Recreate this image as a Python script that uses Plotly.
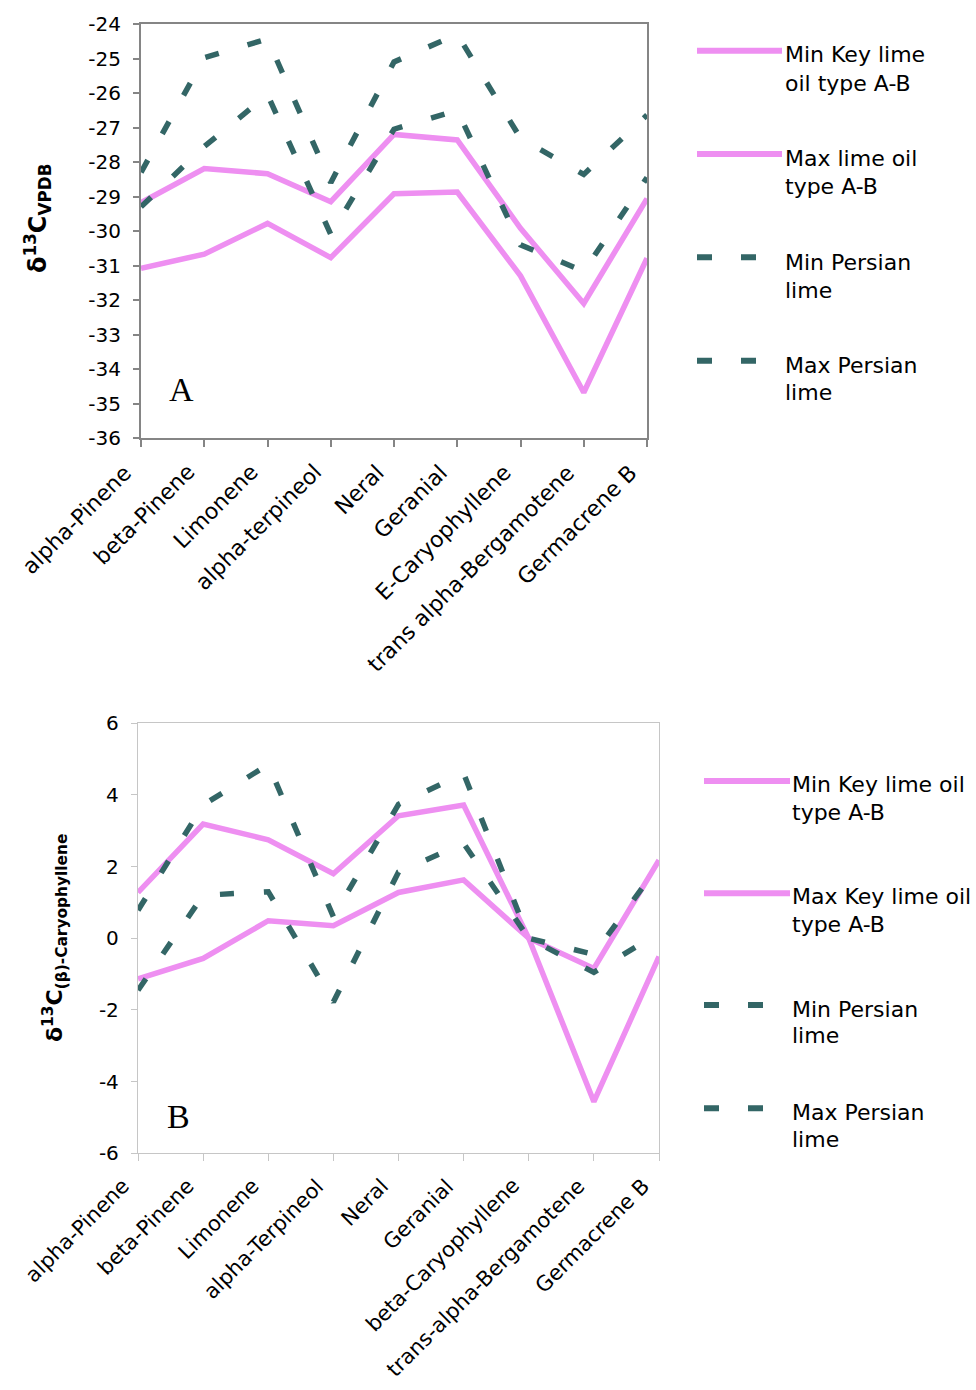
import plotly.graph_objects as go

# ---------------- data ----------------
categories_A = ["alpha-Pinene", "beta-Pinene", "Limonene", "alpha-terpineol", "Neral",
                "Geranial", "E-Caryophyllene", "trans alpha-Bergamotene", "Germacrene B"]
min_key_A = [-31.08, -30.67, -29.78, -30.77, -28.92, -28.87, -31.30, -34.68, -30.79]
max_key_A = [-29.18, -28.19, -28.34, -29.15, -27.20, -27.36, -29.92, -32.10, -29.06]
min_persian_A = [-29.30, -27.55, -26.05, -30.10, -27.05, -26.50, -30.40, -31.17, -28.45]
max_persian_A = [-28.30, -24.98, -24.43, -28.60, -25.10, -24.30, -27.31, -28.36, -26.64]
ytick_vals_A = [-24, -25, -26, -27, -28, -29, -30, -31, -32, -33, -34, -35, -36]
ytick_text_A = ["-24", "-25", "-26", "-27", "-28", "-29", "-30", "-31", "-32", "-33", "-34", "-35", "-36"]
legend_A = ["Min Key lime<br>oil type A-B", "Max lime oil<br>type A-B", "Min Persian<br>lime", "Max Persian<br>lime"]

categories_B = ["alpha-Pinene", "beta-Pinene", "Limonene", "alpha-Terpineol", "Neral",
                "Geranial", "beta-Caryophyllene", "trans-alpha-Bergamotene", "Germacrene B"]
min_key_B = [-1.13, -0.56, 0.49, 0.35, 1.28, 1.63, 0.0, -0.84, 2.18]
max_key_B = [1.28, 3.19, 2.75, 1.80, 3.42, 3.72, 0.0, -4.56, -0.51]
min_persian_B = [-1.45, 1.20, 1.30, -1.78, 1.85, 2.65, 0.0, -0.95, 0.15]
max_persian_B = [0.78, 3.72, 4.85, 0.60, 3.74, 4.60, 0.0, -0.45, 2.05]
ytick_vals_B = [6, 4, 2, 0, -2, -4, -6]
ytick_text_B = ["6", "4", "2", "0", "-2", "-4", "-6"]
legend_B = ["Min Key lime oil<br>type A-B", "Max Key lime oil<br>type A-B", "Min Persian<br>lime", "Max Persian<br>lime"]

# ---------------- styles ----------------
W, H = 976, 1390
PINK = "#ee8ff1"
TEAL = "#336666"
FONT = "DejaVu Sans"
DASH = "14px,30px"
LW = 5.5


def px(x):
    return x / W


def py(y):
    return 1 - y / H


fig = go.Figure()

series_A = [(min_key_A, PINK, "solid"), (max_key_A, PINK, "solid"),
            (min_persian_A, TEAL, DASH), (max_persian_A, TEAL, DASH)]
series_B = [(min_key_B, PINK, "solid"), (max_key_B, PINK, "solid"),
            (min_persian_B, TEAL, DASH), (max_persian_B, TEAL, DASH)]

for (vals, col, dash), name in zip(series_A, legend_A):
    fig.add_trace(go.Scatter(x=categories_A, y=vals, mode="lines", name=name.replace("<br>", " "),
                             line=dict(color=col, width=LW, dash=dash), xaxis="x", yaxis="y",
                             showlegend=False))
for (vals, col, dash), name in zip(series_B, legend_B):
    fig.add_trace(go.Scatter(x=categories_B, y=vals, mode="lines", name=name.replace("<br>", " "),
                             line=dict(color=col, width=LW, dash=dash), xaxis="x2", yaxis="y2",
                             showlegend=False))

axA_col = "#858585"
axB_col = "#c6c6c6"

fig.update_layout(
    width=W, height=H,
    margin=dict(l=0, r=0, t=0, b=0),
    paper_bgcolor="white", plot_bgcolor="white",
    template="none",
    font=dict(family=FONT, color="black"),
    xaxis=dict(domain=[px(141), px(647)], anchor="y", type="category", range=[0, 8],
               categoryorder="array", categoryarray=categories_A,
               showgrid=False, zeroline=False, showline=True, linecolor=axA_col, linewidth=2,
               mirror=True, ticks="outside", ticklen=7, tickcolor=axA_col, tickwidth=1.5,
               showticklabels=False, automargin=False),
    yaxis=dict(domain=[py(438), py(24)], anchor="x", range=[-36, -24],
               tickvals=ytick_vals_A, ticktext=ytick_text_A,
               showgrid=False, zeroline=False, showline=True, linecolor=axA_col, linewidth=2,
               mirror=True, ticks="outside", ticklen=6, tickcolor=axA_col, tickwidth=1.5,
               tickfont=dict(size=20, family=FONT), ticklabelstandoff=8, automargin=False),
    xaxis2=dict(domain=[px(138), px(659)], anchor="y2", type="category", range=[0, 8],
                categoryorder="array", categoryarray=categories_B,
                showgrid=False, zeroline=False, showline=True, linecolor=axB_col, linewidth=1.3,
                mirror=True, ticks="outside", ticklen=7, tickcolor=axB_col, tickwidth=1.3,
                showticklabels=False, automargin=False),
    yaxis2=dict(domain=[py(1153.3), py(723.3)], anchor="x2", range=[-6, 6],
                tickvals=ytick_vals_B, ticktext=ytick_text_B,
                showgrid=False, zeroline=False, showline=True, linecolor=axB_col, linewidth=1.3,
                mirror=True, ticks="outside", ticklen=6, tickcolor=axB_col, tickwidth=1.3,
                tickfont=dict(size=20, family=FONT), ticklabelstandoff=8, automargin=False),
    showlegend=False,
)

annotations = []
shapes = []

# rotated category labels (placed at each category of the axis)
for cats, xref, yax, fs, ysh in ((categories_A, "x", 438, 22, -19), (categories_B, "x2", 1153.3, 21, -18)):
    for c in cats:
        annotations.append(dict(x=c, xref=xref, y=py(yax), yref="paper", text=c, textangle=-45,
                                showarrow=False, xanchor="right", yanchor="top",
                                xshift=-2, yshift=ysh,
                                font=dict(size=fs, family=FONT, color="black")))

# axis titles
annotations.append(dict(x=px(37), y=py(218), xref="paper", yref="paper", textangle=-90,
                        text="<b>δ<sup>13</sup>C<sub>VPDB</sub></b>", showarrow=False,
                        font=dict(size=24, family=FONT, color="black"),
                        xanchor="center", yanchor="middle"))
annotations.append(dict(x=px(55), y=py(938), xref="paper", yref="paper", textangle=-90,
                        text="<b>δ<sup>13</sup>C<sub>(β)-Caryophyllene</sub></b>", showarrow=False,
                        font=dict(size=22, family=FONT, color="black"),
                        xanchor="center", yanchor="middle"))
# panel letters
annotations.append(dict(x=px(181), y=py(389), xref="paper", yref="paper", text="A",
                        showarrow=False, font=dict(size=34, family="Liberation Serif", color="black"),
                        xanchor="center", yanchor="middle"))
annotations.append(dict(x=px(178), y=py(1116), xref="paper", yref="paper", text="B",
                        showarrow=False, font=dict(size=34, family="Liberation Serif", color="black"),
                        xanchor="center", yanchor="middle"))


# manual legends
def legend(entries, styles, x0, x1, xt, line_ys, text_ys):
    for lab, (vals, col, dash), ly, (t1, t2) in zip(entries, styles, line_ys, text_ys):
        shapes.append(dict(type="line", xref="paper", yref="paper", x0=px(x0), x1=px(x1),
                           y0=py(ly), y1=py(ly),
                           line=dict(color=col, width=LW + 0.5,
                                     dash=("solid" if dash == "solid" else "15px,29px"))))
        l1, l2 = lab.split("<br>")
        for txt, ty in ((l1, t1), (l2, t2)):
            annotations.append(dict(x=px(xt), y=py(ty), xref="paper", yref="paper", text=txt,
                                    showarrow=False, xanchor="left", yanchor="middle",
                                    font=dict(size=22, family=FONT, color="black")))


legend(legend_A, series_A, 697, 782, 783,
       [50.7, 154, 257.3, 360.7],
       [(54, 83), (158, 186), (262.5, 290.5), (365.5, 392.5)])
legend(legend_B, series_B, 704, 790, 790,
       [781, 893.3, 1005, 1108.3],
       [(784, 812.5), (896.5, 924), (1009, 1035.5), (1112.5, 1139)])

fig.update_layout(annotations=annotations, shapes=shapes)

fig.write_html("out.html")
